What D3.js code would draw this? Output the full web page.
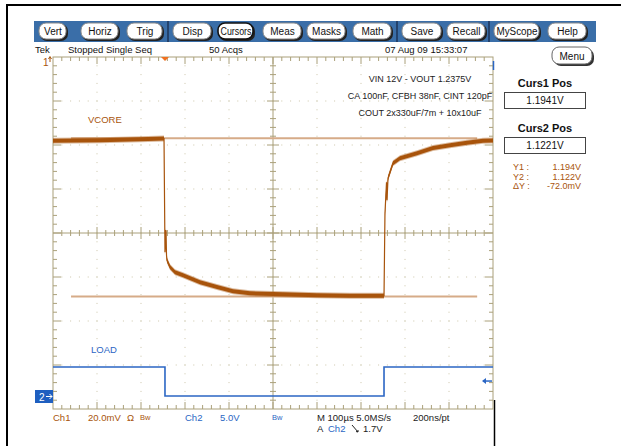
<!DOCTYPE html>
<html>
<head>
<meta charset="utf-8">
<script src="https://cdn.jsdelivr.net/npm/d3@7/dist/d3.min.js"></script>
<style>
  body { margin: 0; background: #fff; }
  text { font-family: "Liberation Sans", Arial, sans-serif; }
</style>
</head>
<body>
<script>
// ---- data ----
// time in us from left edge of screen (10 div x 100us)
const vcoreTime = [0, 107, 198, 252.3, 254.5, 256.8, 258, 259.1, 265.9, 277.3, 295.5, 334.1, 372.7, 409.1, 447.7,
    522.7, 600, 675, 752.3, 754.5, 758, 759.1, 761.4, 765.9, 772.7, 788.6, 827.3, 863.6, 902.3, 940.9, 977.3, 1000];
const vcoreVolts = [1.1929, 1.1932, 1.1936, 1.1939, 1.1423, 1.1523, 1.1409, 1.1386, 1.1355, 1.1332, 1.1318, 1.1286,
    1.1264, 1.1245, 1.1236, 1.1232, 1.1227, 1.1225, 1.1225, 1.1600, 1.1741, 1.1659, 1.1759, 1.1786, 1.1827, 1.1850,
    1.1873, 1.1896, 1.1909, 1.1920, 1.1929, 1.1930];

const loadTime = [0, 254.5, 254.5, 752.3, 752.3, 1000];
const loadVolts = [3.3, 3.3, 0, 0, 3.3, 3.3];

const cursorVolts = [1.1941, 1.1221];
const cursorSpan = [41, 964];
const cursorLabels = ["Curs1 Pos", "Curs2 Pos"];
const cursorValues = ["1.1941V", "1.1221V"];
const readoutNames = ["Y1 :", "Y2 :", "\u0394Y :"];
const readoutValues = ["1.194V", "1.122V", "-72.0mV"];

const buttonLabels = ["Vert", "Horiz", "Trig", "Disp", "Cursors", "Meas", "Masks", "Math", "Save", "Recall", "MyScope", "Help"];
const buttonEdges = [[39, 67], [81, 119], [127, 163], [173, 212], [218, 254], [263, 302], [307, 346], [353, 392],
    [402, 442], [447, 486], [494, 540], [548, 587]];

const notes = ["VIN 12V - VOUT 1.2375V", "CA 100nF, CFBH 38nF, CINT 120pF", "COUT 2x330uF/7m + 10x10uF"];

const trigTime = 254.5;
const trigLevel = 1.7;

// ---- colours ----
const brown = "#a8540c", tan = "#d6ab88", blue = "#2b66c4", grid = "#aaa07a", dots = "#ccc6aa";

// ---- geometry ----
const gx0 = 53, gx1 = 493, gy0 = 57, gy1 = 409;
const div = 44, minor = div / 5;

const svg = d3.select("body").append("svg")
    .attr("width", 621)
    .attr("height", 446);

// scales: 100us/div, ch1 20mV/div, ch2 5V/div
const x = d3.scaleLinear().domain([0, 1000]).range([gx0, gx1]);
const ch1 = d3.scaleLinear().domain([1.071, 1.231]).range([gy1, gy0]);
const ch2 = d3.scaleLinear().domain([-(gy1 - 396) / div * 5, (396 - gy0) / div * 5]).range([gy1, gy0]);

// page frame lines
svg.append("line").attr("x1", 6).attr("y1", 5).attr("x2", 621).attr("y2", 5)
    .attr("stroke", "#000").attr("stroke-width", 2);
svg.append("line").attr("x1", 7).attr("y1", 4).attr("x2", 7).attr("y2", 446)
    .attr("stroke", "#000").attr("stroke-width", 2);
svg.append("line").attr("x1", 494.5).attr("y1", 400).attr("x2", 494.5).attr("y2", 446)
    .attr("stroke", "#000").attr("stroke-width", 1.5);

// ---- toolbar ----
svg.append("rect").attr("x", 34).attr("y", 21).attr("width", 562).attr("height", 21).attr("fill", "#3a6ea8");
[168, 397, 489].forEach(function (sx) {
    svg.append("line").attr("x1", sx).attr("y1", 21).attr("x2", sx).attr("y2", 42)
        .attr("stroke", "#1c3558").attr("stroke-width", 1.5);
});

const btn = svg.selectAll(".btn")
    .data(buttonLabels)
    .enter().append("g")
    .attr("class", "btn");

btn.append("rect")
    .attr("x", (d, i) => buttonEdges[i][0] + 1)
    .attr("y", 24)
    .attr("width", (d, i) => buttonEdges[i][1] - buttonEdges[i][0])
    .attr("height", 17)
    .attr("rx", 7)
    .attr("fill", "#222");

btn.append("rect")
    .attr("x", (d, i) => buttonEdges[i][0])
    .attr("y", 23)
    .attr("width", (d, i) => buttonEdges[i][1] - buttonEdges[i][0] - 1)
    .attr("height", 16)
    .attr("rx", 7)
    .attr("fill", "#fff")
    .attr("stroke", d => d == "Cursors" ? "#111" : "#8a8a8a")
    .attr("stroke-width", d => d == "Cursors" ? 1.6 : 1);

btn.append("text")
    .attr("x", (d, i) => (buttonEdges[i][0] + buttonEdges[i][1]) / 2)
    .attr("y", 35)
    .attr("text-anchor", "middle")
    .style("font-size", "10px")
    .attr("fill", "#111")
    .text(d => d)
    .each(function (d, i) {
        // the long labels are squeezed on the scope too
        if (d == "Cursors" || d == "MyScope") {
            d3.select(this)
                .attr("textLength", buttonEdges[i][1] - buttonEdges[i][0] - 5)
                .attr("lengthAdjust", "spacingAndGlyphs");
        }
    });

// status line
const status = [["Tek", 35], ["Stopped  Single Seq", 68], ["50 Acqs", 209], ["07 Aug 09 15:33:07", 385]];
status.forEach(function (s) {
    svg.append("text").attr("x", s[1]).attr("y", 53)
        .style("font-size", "9.5px").attr("fill", "#111").text(s[0]);
});

// Menu button
svg.append("rect").attr("x", 554).attr("y", 49).attr("width", 40).attr("height", 17).attr("rx", 7).attr("fill", "#333");
svg.append("rect").attr("x", 552).attr("y", 47).attr("width", 40).attr("height", 17).attr("rx", 7)
    .attr("fill", "#fff").attr("stroke", "#666");
svg.append("text").attr("x", 572).attr("y", 59.5).attr("text-anchor", "middle")
    .style("font-size", "10px").attr("fill", "#111").text("Menu");

// ---- graticule ----
const gr = svg.append("g");

// dotted division lines
for (let i = 1; i < 10; i++) {
    if (i == 5) continue;
    for (let k = 1; k < 40; k++) {
        gr.append("rect").attr("x", gx0 + i * div - 0.5).attr("y", gy0 + k * minor - 0.5)
            .attr("width", 1).attr("height", 1).attr("fill", dots);
    }
}
for (let j = 1; j < 8; j++) {
    if (j == 4) continue;
    for (let k = 1; k < 50; k++) {
        gr.append("rect").attr("x", gx0 + k * minor - 0.5).attr("y", gy0 + j * div - 0.5)
            .attr("width", 1).attr("height", 1).attr("fill", dots);
    }
}

// frame
gr.append("rect").attr("x", gx0).attr("y", gy0).attr("width", gx1 - gx0).attr("height", gy1 - gy0)
    .attr("fill", "none").attr("stroke", grid).attr("stroke-width", 1);

// centre cross
const cx = (gx0 + gx1) / 2, cy = (gy0 + gy1) / 2;
gr.append("line").attr("x1", cx).attr("y1", gy0).attr("x2", cx).attr("y2", gy1).attr("stroke", grid);
gr.append("line").attr("x1", gx0).attr("y1", cy).attr("x2", gx1).attr("y2", cy).attr("stroke", grid);

function tick(x1, y1, x2, y2) {
    gr.append("line").attr("x1", x1).attr("y1", y1).attr("x2", x2).attr("y2", y2)
        .attr("stroke", grid).attr("stroke-width", 1);
}

// ticks along horizontal edges / centre
for (let k = 1; k < 50; k++) {
    let tx = gx0 + k * minor;
    let major = k % 5 == 0;
    let len = major ? 7 : 4;
    tick(tx, gy0, tx, gy0 + len);
    tick(tx, gy1, tx, gy1 - len);
    tick(tx, cy - (major ? 6 : 3), tx, cy + (major ? 6 : 3));
}
// ticks along vertical edges / centre
for (let k = 1; k < 40; k++) {
    let ty = gy0 + k * minor;
    let major = k % 5 == 0;
    let len = major ? 8 : 4;
    tick(gx0, ty, gx0 + len, ty);
    tick(gx1, ty, gx1 - len, ty);
    tick(cx - (major ? 6 : 3), ty, cx + (major ? 6 : 3), ty);
}

// ---- annotations in screen ----
notes.forEach(function (n, i) {
    svg.append("text").attr("x", 420).attr("y", 82 + i * 17).attr("text-anchor", "middle")
        .style("font-size", "9px").attr("fill", "#222").text(n);
});

svg.append("text").attr("x", 88).attr("y", 123).style("font-size", "9.5px").attr("fill", brown).text("VCORE");
svg.append("text").attr("x", 91).attr("y", 353).style("font-size", "9.5px").attr("fill", blue).text("LOAD");

// ---- cursors ----
svg.selectAll(".cursor")
    .data(cursorVolts)
    .enter().append("line")
    .attr("class", "cursor")
    .attr("x1", x(cursorSpan[0]))
    .attr("x2", x(cursorSpan[1]))
    .attr("y1", d => ch1(d))
    .attr("y2", d => ch1(d))
    .attr("stroke", tan)
    .attr("stroke-width", 2);

// ---- traces ----
const vcore = vcoreTime.map((t, i) => ({t: t, v: vcoreVolts[i]}));
const load = loadTime.map((t, i) => ({t: t, v: loadVolts[i]}));

// noisy band of ch1 drawn as thick area, then a thin core line for the edges
const band = d3.area()
    .x(d => x(d.t))
    .y0(d => ch1(d.v) - 3)
    .y1(d => ch1(d.v) + 3);
svg.append("path").datum(vcore).attr("d", band).attr("fill", brown).attr("opacity", 0.4);
band.y0(d => ch1(d.v) - 2).y1(d => ch1(d.v) + 2);
svg.append("path").datum(vcore).attr("d", band).attr("fill", brown);

svg.append("path").datum(vcore)
    .attr("d", d3.line().x(d => x(d.t)).y(d => ch1(d.v)))
    .attr("fill", "none").attr("stroke", brown).attr("stroke-width", 1.2);

svg.append("path").datum(load)
    .attr("d", d3.line().x(d => x(d.t)).y(d => ch2(d.v)))
    .attr("fill", "none").attr("stroke", blue).attr("stroke-width", 1.6);

// ---- markers ----
// trigger position
svg.append("path")
    .attr("d", "M" + (x(trigTime) - 4) + "," + gy0 + "L" + (x(trigTime) + 4) + "," + gy0 + "L" + x(trigTime) + "," + (gy0 + 4) + "Z")
    .attr("fill", "#f07020");

// trigger level arrow on right
const ty = ch2(trigLevel);
svg.append("line").attr("x1", gx1 - 10).attr("y1", ty).attr("x2", gx1 - 1).attr("y2", ty).attr("stroke", blue).attr("stroke-width", 1.5);
svg.append("path").attr("d", "M" + (gx1 - 11) + "," + ty + "l4,-3l0,6Z").attr("fill", blue);
svg.append("line").attr("x1", gx1 + 0.5).attr("y1", 61).attr("x2", gx1 + 0.5).attr("y2", 70).attr("stroke", blue).attr("stroke-width", 1.5);

// ch1 ground marker (off-screen above)
svg.append("text").attr("x", 43).attr("y", 66).style("font-size", "10px").attr("fill", brown).text("1");
svg.append("path").attr("d", "M50,62 L50,57 M48.5,59 L50,56.5 L51.5,59").attr("stroke", brown).attr("fill", "none");

// ch2 ground marker
svg.append("rect").attr("x", 35).attr("y", 390).attr("width", 18).attr("height", 13).attr("fill", "#1f5fc0");
svg.append("text").attr("x", 39).attr("y", 400.5).style("font-size", "10px").attr("fill", "#fff").text("2");
svg.append("path").attr("d", "M46,396.5 L52,396.5 M49.5,394 L52,396.5 L49.5,399")
    .attr("stroke", "#fff").attr("fill", "none");

// ---- bottom readout ----
const bottom = [
    ["Ch1", 53, brown, 421, "9.5px"], ["20.0mV", 88, brown, 421, "9.5px"], ["\u03a9", 127, brown, 421, "9.5px"],
    ["Bw", 140, brown, 420, "7.5px"],
    ["Ch2", 185, blue, 421, "9.5px"], ["5.0V", 220, blue, 421, "9.5px"], ["Bw", 272, blue, 420, "7.5px"],
    ["M 100\u00b5s 5.0MS/s", 317, "#222", 421, "9.5px"], ["200ns/pt", 413, "#222", 421, "9.5px"],
    ["A", 317, "#222", 432, "9.5px"], ["Ch2", 328, blue, 432, "9.5px"], ["1.7V", 363, "#222", 432, "9.5px"]
];
bottom.forEach(function (b) {
    svg.append("text").attr("x", b[1]).attr("y", b[3]).style("font-size", b[4]).attr("fill", b[2]).text(b[0]);
});
// falling-edge slope symbol
svg.append("path").attr("d", "M352,425 L358,432 M356,431.5 L358,432 L358,430")
    .attr("stroke", "#222").attr("fill", "none");

// ---- right panel ----
cursorLabels.forEach(function (c, i) {
    let y0 = 87 + i * 45;
    svg.append("text").attr("x", 545).attr("y", y0).attr("text-anchor", "middle")
        .style("font-size", "11px").style("font-weight", "bold").attr("fill", "#111").text(c);
    svg.append("rect").attr("x", 504.5).attr("y", y0 + 5.5).attr("width", 81).attr("height", 16)
        .attr("fill", "#fff").attr("stroke", "#444");
    svg.append("text").attr("x", 545).attr("y", y0 + 17).attr("text-anchor", "middle")
        .style("font-size", "10px").attr("fill", "#111").text(cursorValues[i]);
});

readoutNames.forEach(function (r, i) {
    let ry = 170 + i * 9.5;
    svg.append("text").attr("x", 513).attr("y", ry).style("font-size", "9px").attr("fill", brown).text(r);
    svg.append("text").attr("x", 581).attr("y", ry).attr("text-anchor", "end")
        .style("font-size", "9px").attr("fill", brown).text(readoutValues[i]);
});
</script>
</body>
</html>
